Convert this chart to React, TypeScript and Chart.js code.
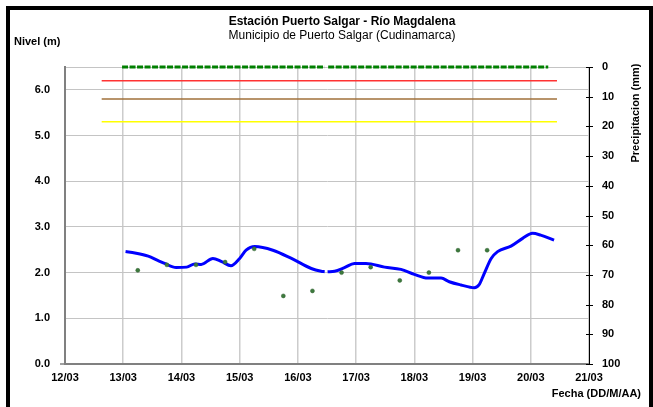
import React, { useEffect, useRef } from "react";
import { Chart, registerables } from "chart.js";

Chart.register(...registerables);

// X values are days after 12/03 (0 = 12/03, 9 = 21/03)
const dayLabels = ["12/03", "13/03", "14/03", "15/03", "16/03", "17/03", "18/03", "19/03", "20/03", "21/03"];
const levelTicks = [0, 1, 2, 3, 4, 5, 6];
const precipTicks = [0, 10, 20, 30, 40, 50, 60, 70, 80, 90, 100];

const levelDays = [
  1.04, 1.2, 1.43, 1.6, 1.71, 1.91, 2.09, 2.23, 2.34, 2.54, 2.69, 2.85, 3.0, 3.11, 3.26, 3.57, 3.89,
  4.23, 4.4, 4.46, 4.48, 4.51, 4.63, 4.8, 4.97, 5.17, 5.49, 5.77, 6.0, 6.23, 6.46, 6.6, 6.8, 7.03,
  7.11, 7.2, 7.32, 7.43, 7.66, 7.86, 8.03, 8.17, 8.4,
];
const levelValues = [
  2.46, 2.43, 2.36, 2.26, 2.2, 2.11, 2.12, 2.19, 2.18, 2.31, 2.24, 2.15, 2.31, 2.49, 2.57, 2.49, 2.31,
  2.09, 2.03, 2.02, null, 2.02, 2.03, 2.11, 2.2, 2.2, 2.12, 2.07, 1.96, 1.88, 1.88, 1.8, 1.73, 1.67,
  1.73, 1.98, 2.31, 2.46, 2.58, 2.75, 2.86, 2.82, 2.71,
];

const readingDays = [1.25, 1.75, 2.25, 2.75, 3.25, 3.75, 4.25, 4.75, 5.25, 5.75, 6.25, 6.75, 7.25];
const readingValues = [2.05, 2.17, 2.17, 2.23, 2.52, 1.49, 1.6, 2.0, 2.12, 1.83, 2.0, 2.49, 2.49];

const precipDays = [0.98, 4.46, 4.48, 4.52, 8.3];
const precipMm = [0, 0, null, 0, 0];

const thresholdDays = [0.63, 8.45];
const redLevel = 6.2;
const orangeLevel = 5.8;
const yellowLevel = 5.3;

const FONT = '"Liberation Sans", Arial, sans-serif';

const pts = (xs: number[], ys: (number | null)[]) => xs.map((x, i) => ({ x, y: ys[i] }));

const textPlugin = {
  id: "texts",
  afterDraw(chart: any) {
    const ctx = chart.ctx;
    ctx.save();
    ctx.fillStyle = "#000";
    ctx.textBaseline = "middle";
    ctx.textAlign = "center";
    ctx.font = `bold 12px ${FONT}`;
    ctx.fillText("Estación Puerto Salgar - Río Magdalena", 342, 22);
    ctx.font = `12px ${FONT}`;
    ctx.fillText("Municipio de Puerto Salgar (Cudinamarca)", 342, 36);
    ctx.font = `bold 11px ${FONT}`;
    ctx.textAlign = "left";
    ctx.fillText("Nivel (m)", 14, 42);
    ctx.textAlign = "right";
    ctx.fillText("Fecha (DD/M/AA)", 641, 394);
    ctx.save();
    ctx.translate(636, 113);
    ctx.rotate(-Math.PI / 2);
    ctx.textAlign = "center";
    ctx.fillText("Precipitacion (mm)", 0, 0);
    ctx.restore();
    // cross ticks on right axis
    const y2 = chart.scales.y2;
    const xr = chart.chartArea.right;
    ctx.strokeStyle = "#000";
    ctx.lineWidth = 1;
    precipTicks.forEach((t) => {
      const py = Math.round(y2.getPixelForValue(t)) + 0.5;
      ctx.beginPath();
      ctx.moveTo(xr - 3, py);
      ctx.lineTo(xr + 4, py);
      ctx.stroke();
    });
    // tick at origin of left axis
    const yl = chart.scales.y;
    const xl = chart.chartArea.left;
    ctx.strokeStyle = "#808080";
    ctx.lineWidth = 1.5;
    ctx.beginPath();
    ctx.moveTo(xl - 5, yl.getPixelForValue(0));
    ctx.lineTo(xl, yl.getPixelForValue(0));
    ctx.stroke();
    ctx.restore();
  },
};

export default function App() {
  const ref = useRef<HTMLCanvasElement>(null);
  useEffect(() => {
    if (!ref.current) return;
    const chart = new Chart(ref.current, {
      type: "line",
      data: {
        datasets: [
          {
            label: "Precipitación",
            data: pts(precipDays, precipMm),
            yAxisID: "y2",
            borderColor: "#008000",
            borderWidth: 3,
            borderDash: [6, 1.5],
            pointRadius: 0,
            spanGaps: false,
            clip: false as any,
          },
          {
            label: "Rojo",
            data: pts(thresholdDays, [redLevel, redLevel]),
            yAxisID: "y",
            borderColor: "#ff3333",
            borderWidth: 1.5,
            pointRadius: 0,
          },
          {
            label: "Naranja",
            data: pts(thresholdDays, [orangeLevel, orangeLevel]),
            yAxisID: "y",
            borderColor: "#a0703a",
            borderWidth: 1.5,
            pointRadius: 0,
          },
          {
            label: "Amarillo",
            data: pts(thresholdDays, [yellowLevel, yellowLevel]),
            yAxisID: "y",
            borderColor: "#ffff00",
            borderWidth: 1.5,
            pointRadius: 0,
          },
          {
            label: "Lecturas",
            data: pts(readingDays, readingValues),
            yAxisID: "y",
            showLine: false,
            pointRadius: 2,
            pointBackgroundColor: "#3d7a3d",
            pointBorderColor: "#2e5e2e",
            pointBorderWidth: 0.5,
          },
          {
            label: "Nivel",
            data: pts(levelDays, levelValues),
            yAxisID: "y",
            borderColor: "#0000ff",
            borderWidth: 3,
            pointRadius: 0,
            tension: 0.4,
            cubicInterpolationMode: "monotone",
            spanGaps: false,
          },
        ],
      },
      options: {
        animation: false,
        responsive: false,
        parsing: true as any,
        layout: { padding: { top: 67, left: 0, right: 0, bottom: 0 } },
        plugins: { legend: { display: false }, tooltip: { enabled: false }, title: { display: false } },
        scales: {
          x: {
            type: "linear",
            min: 0,
            max: 9,
            afterFit: (s: any) => {
              s.height = 43;
            },
            ticks: {
              stepSize: 1,
              padding: 7,
              color: "#000",
              font: { family: FONT, size: 11, weight: "bold" },
              callback: (v: any) => dayLabels[Math.round(Number(v))] ?? "",
              maxRotation: 0,
            },
            grid: { color: "#cccccc", lineWidth: 1.5, drawTicks: false },
            border: { color: "#808080", width: 2 },
          },
          y: {
            type: "linear",
            position: "left",
            min: 0,
            max: 6.5,
            afterFit: (s: any) => {
              s.width = 65;
            },
            afterBuildTicks: (s: any) => {
              s.ticks = [...levelTicks.map((v) => ({ value: v })), { value: 6.5 }];
            },
            ticks: {
              padding: 15,
              color: "#000",
              font: { family: FONT, size: 11, weight: "bold" },
              callback: (v: any) => (Number.isInteger(Number(v)) ? Number(v).toFixed(1) : ""),
            },
            grid: { color: "#c4c4c4", lineWidth: 1, drawTicks: false },
            border: { color: "#808080", width: 2 },
          },
          y2: {
            type: "linear",
            position: "right",
            min: 0,
            max: 100,
            reverse: true,
            afterFit: (s: any) => {
              s.width = 64;
            },
            afterBuildTicks: (s: any) => {
              s.ticks = precipTicks.map((v) => ({ value: v }));
            },
            ticks: {
              padding: 5,
              color: "#000",
              font: { family: FONT, size: 11, weight: "bold" },
            },
            grid: { display: false, drawOnChartArea: false },
            border: { color: "#000", width: 1 },
          },
        },
      },
      plugins: [textPlugin],
    });
    return () => chart.destroy();
  }, []);

  return (
    <div style={{ position: "absolute", left: 0, top: 0, width: 653, height: 407, overflow: "hidden", background: "#fff" }}>
      <canvas ref={ref} width={653} height={407} style={{ display: "block", width: 653, height: 407 }} />
      <div
        style={{
          position: "absolute",
          left: 6,
          top: 6,
          width: 647,
          height: 430,
          border: "4px solid #000",
          boxSizing: "border-box",
          pointerEvents: "none",
        }}
      />
    </div>
  );
}
